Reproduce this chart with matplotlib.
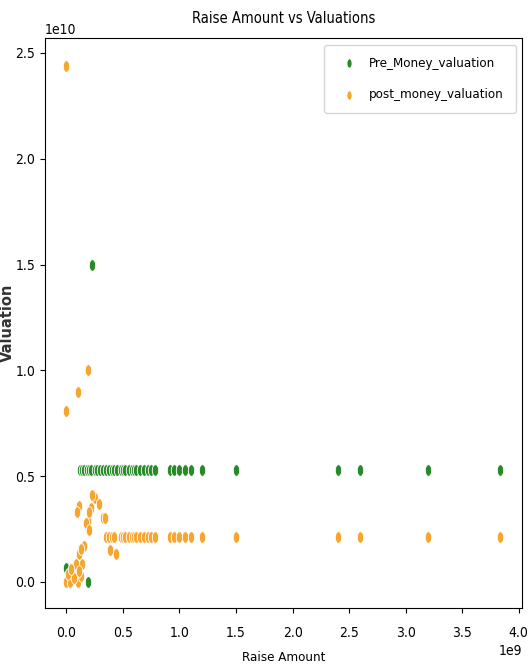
import numpy as np
import matplotlib
matplotlib.use('Agg')
import matplotlib.pyplot as plt
from matplotlib.path import Path

plt.rcParams['font.family'] = ['DejaVu Sans']
plt.rcParams['font.stretch'] = 'condensed'

# Pre-money valuation points (raise amount, valuation)
pre_raise = [0.12e9, 0.14e9, 0.16e9, 0.18e9, 0.20e9, 0.22e9, 0.25e9, 0.27e9, 0.30e9, 0.32e9,
             0.35e9, 0.38e9, 0.40e9, 0.42e9, 0.45e9, 0.48e9, 0.50e9, 0.52e9, 0.55e9, 0.58e9,
             0.60e9, 0.62e9, 0.65e9, 0.69e9, 0.72e9, 0.75e9, 0.78e9, 0.92e9, 0.95e9, 1.00e9,
             1.05e9, 1.10e9, 1.20e9, 1.50e9, 2.40e9, 2.60e9, 3.20e9, 3.83e9,
             0.23e9, 0.0, 0.19e9]
pre_val = [5.3e9] * 38 + [15.0e9, 0.65e9, 0.0]

# Post-money valuation points
post_raise = [0.35e9, 0.38e9, 0.40e9, 0.42e9, 0.48e9, 0.50e9, 0.52e9, 0.55e9, 0.58e9, 0.60e9,
              0.62e9, 0.65e9, 0.69e9, 0.72e9, 0.75e9, 0.78e9, 0.92e9, 0.95e9, 1.00e9, 1.05e9,
              1.10e9, 1.20e9, 1.50e9, 2.40e9, 2.60e9, 3.20e9, 3.83e9,
              0.0, 0.0, 0.10e9, 0.19e9,
              0.0, 0.035e9, 0.10e9, 0.13e9, 0.056e9, 0.10e9, 0.14e9, 0.115e9, 0.16e9, 0.01e9,
              0.07e9, 0.085e9, 0.04e9, 0.11e9, 0.095e9, 0.19e9, 0.195e9, 0.22e9, 0.25e9,
              0.29e9, 0.32e9, 0.345e9, 0.39e9, 0.44e9, 0.17e9, 0.23e9, 0.20e9, 0.115e9,
              0.13e9, 0.20e9]
post_val = [2.1e9] * 27 + [24.4e9, 8.1e9, 9.0e9, 10.0e9,
            0.0, 0.0, 0.0, 0.3e9, 0.65e9, 0.45e9, 0.85e9, 1.3e9, 1.7e9, 0.37e9,
            0.2e9, 0.85e9, 0.6e9, 3.6e9, 3.3e9, 2.9e9, 2.5e9, 3.5e9, 3.95e9,
            3.7e9, 3.0e9, 3.0e9, 1.5e9, 1.3e9, 2.8e9, 4.1e9, 3.3e9, 0.53e9,
            1.56e9, 2.45e9]

# squashed ellipse marker to match the stretched look of the source image
t = np.linspace(0, 2 * np.pi, 40)
ellipse = Path(np.column_stack([0.55 * np.cos(t), np.sin(t)]))

fig = plt.figure(figsize=(5.28, 6.70), dpi=100)
ax = fig.add_axes([0.085, 0.092, 0.904, 0.851])

ax.scatter(pre_raise, pre_val, marker=ellipse, s=70, color='#2a8a2a',
           edgecolor='white', linewidth=0.6, label='Pre_Money_valuation')
ax.scatter(post_raise, post_val, marker=ellipse, s=70, color='#f6a52e',
           edgecolor='white', linewidth=0.6, label='post_money_valuation')

ax.set_xlim(-0.19e9, 4.03e9)
ax.set_ylim(-0.125e10, 2.57e10)
ax.set_xticks([0, 0.5e9, 1e9, 1.5e9, 2e9, 2.5e9, 3e9, 3.5e9, 4e9])
ax.set_yticks([0, 0.5e10, 1e10, 1.5e10, 2e10, 2.5e10])
ax.tick_params(labelsize=10)
ax.tick_params(axis='x', pad=9)
ax.xaxis.get_offset_text().set_fontsize(10)
ax.yaxis.get_offset_text().set_fontsize(10)

ax.set_title('Raise Amount vs Valuations', fontsize=10.5, pad=11)
ax.set_xlabel('Raise Amount', fontsize=9.5, labelpad=8)
ax.set_ylabel('Valuation', fontsize=10.5, fontweight='bold', fontstretch='normal',
              color='#333333')
ax.yaxis.set_label_coords(-0.062, 0.5)

ax.legend(loc='upper right', fontsize=9.5, labelspacing=1.4, borderpad=0.9,
          handletextpad=0.5, markerscale=0.8)

fig.savefig('out.png', dpi=100)
